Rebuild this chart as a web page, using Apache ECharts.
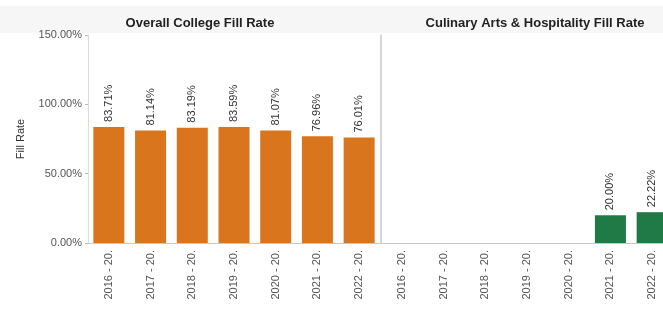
<!DOCTYPE html>
<html>
<head>
<meta charset="utf-8">
<script src="https://cdn.jsdelivr.net/npm/echarts@6/dist/echarts.min.js"></script>
<style>
    html, body { margin: 0; padding: 0; background: #fff; overflow: hidden; }
    /* a bit wider than the window: the right panel runs past the edge in the original */
    #chart { width: 673px; height: 314px; }
</style>
</head>
<body>
<div id="chart"></div>
<script>
    // academic years (labels get cut off like in the dashboard)
    const years = ['2016 - 2017', '2017 - 2018', '2018 - 2019', '2019 - 2020', '2020 - 2021', '2021 - 2022', '2022 - 2023'];
    const collegeFill = [83.71, 81.14, 83.19, 83.59, 81.07, 76.96, 76.01];
    const culinaryFill = [null, null, null, null, null, 20.00, 22.22];
    const yTicks = [0, 50, 100, 150];

    const font = 'Liberation Sans, Arial, sans-serif';
    const pct = v => v.toFixed(2) + '%';

    let chart = echarts.init(document.getElementById('chart'));

    function xAxisFor(idx) {
        return {
            type: 'category',
            gridIndex: idx,
            data: years,
            axisLine: { lineStyle: { color: '#c8c8c8' } },
            axisTick: { show: false },
            axisLabel: {
                rotate: 90,
                fontSize: 11,
                fontFamily: font,
                color: '#555',
                margin: 7,
                width: 54,
                overflow: 'truncate',
                ellipsis: '.'
            }
        };
    }

    function barLabel() {
        return {
            show: true,
            position: 'top',
            rotate: 90,
            align: 'left',
            verticalAlign: 'middle',
            distance: 5,
            fontSize: 11,
            fontFamily: font,
            color: '#333',
            formatter: p => pct(p.value)
        };
    }

    let option = {
        animation: false,
        graphic: [{
            type: 'rect',
            z: -10,
            shape: { x: 0, y: 6, width: 673, height: 27 },
            style: { fill: '#f6f6f6' }
        }],
        title: [{
            text: 'Overall College Fill Rate',
            left: 195,
            top: 12,
            textAlign: 'center',
            textStyle: { fontSize: 13, fontWeight: 'bold', color: '#222', fontFamily: font }
        }, {
            text: 'Culinary Arts & Hospitality Fill Rate',
            left: 530,
            top: 12,
            textAlign: 'center',
            textStyle: { fontSize: 13, fontWeight: 'bold', color: '#222', fontFamily: font }
        }],
        grid: [
            { left: 88, width: 292, top: 35, bottom: 71 },
            { left: 381, width: 292, top: 35, bottom: 71 }
        ],
        xAxis: [xAxisFor(0), xAxisFor(1)],
        yAxis: [{
            type: 'value',
            gridIndex: 0,
            min: yTicks[0],
            max: yTicks[yTicks.length - 1],
            interval: 50,
            name: 'Fill Rate',
            nameLocation: 'middle',
            nameGap: 62,
            nameTextStyle: { fontSize: 11, fontFamily: font, color: '#333' },
            axisLine: { show: true, lineStyle: { color: '#dcdcdc' } },
            axisTick: { show: true, length: 3, lineStyle: { color: '#bbb' } },
            splitLine: { show: false },
            axisLabel: { fontSize: 11, fontFamily: font, color: '#555', margin: 6, formatter: v => pct(v) }
        }, {
            type: 'value',
            gridIndex: 1,
            min: yTicks[0],
            max: yTicks[yTicks.length - 1],
            interval: 50,
            axisLine: { show: true, lineStyle: { color: '#c8c8c8', width: 1.5 } },
            axisTick: { show: false },
            splitLine: { show: false },
            axisLabel: { show: false }
        }],
        series: [{
            name: 'Overall College',
            type: 'bar',
            xAxisIndex: 0,
            yAxisIndex: 0,
            data: collegeFill,
            barWidth: 31,
            itemStyle: { color: '#d9761d' },
            label: barLabel()
        }, {
            name: 'Culinary Arts & Hospitality',
            type: 'bar',
            xAxisIndex: 1,
            yAxisIndex: 1,
            data: culinaryFill,
            barWidth: 31,
            itemStyle: { color: '#1f7a45' },
            label: barLabel()
        }]
    };
    chart.setOption(option);
</script>
</body>
</html>
